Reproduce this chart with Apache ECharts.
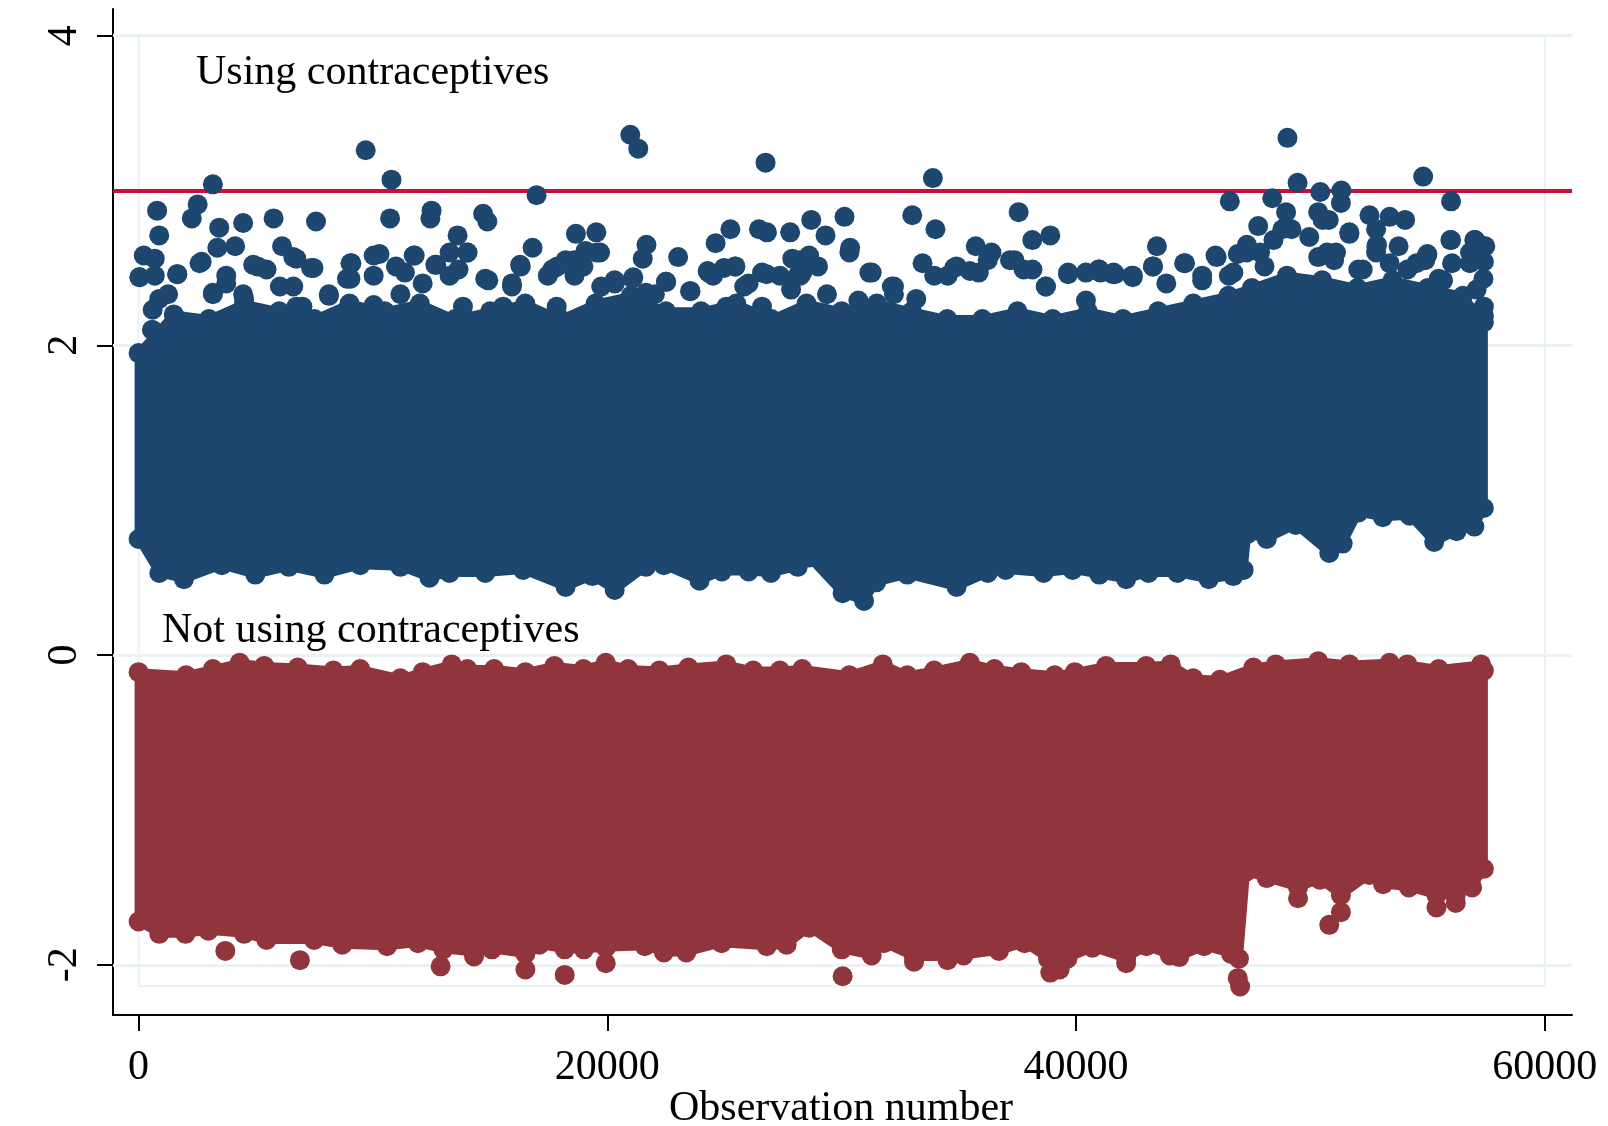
<!DOCTYPE html>
<html>
<head>
<meta charset="utf-8">
<title>Observation number scatter</title>
<script src="https://cdn.jsdelivr.net/npm/echarts@6/dist/echarts.min.js"></script>
<style>
  html, body { margin: 0; padding: 0; background: #ffffff; }
  #chart { width: 1608px; height: 1126px; }
</style>
</head>
<body>
<div id="chart"></div>
<script>
// Axis ticks
const xTicks = [0, 20000, 40000, 60000];
const yTicks = [-2, 0, 2, 4];
const refLineY = 3;

// Plot-region outline (observation range 0..60000, value range down to the inner margin)
const frameBox = [[0, 4], [0, -2.136], [60000, -2.136], [60000, 4]];

// "Using contraceptives": outline of the densely packed cloud (upper / lower edge, observation, value)
const blueTop = [
  [0, 1.95], [1500, 2.20], [3000, 2.17], [4500, 2.27], [6000, 2.22], [7500, 2.17], [9000, 2.27],
  [10500, 2.22], [12000, 2.27], [13500, 2.17], [15000, 2.22], [16500, 2.27], [18000, 2.17],
  [19500, 2.27], [21000, 2.32], [22500, 2.22], [24000, 2.22], [25500, 2.27], [27000, 2.17],
  [28500, 2.27], [30000, 2.22], [31500, 2.27], [33000, 2.22], [34500, 2.17], [36000, 2.17],
  [37500, 2.22], [39000, 2.17], [40500, 2.22], [42000, 2.17], [43500, 2.22], [45000, 2.27],
  [46500, 2.32], [47500, 2.37], [49000, 2.45], [50500, 2.42], [52000, 2.37], [53500, 2.42],
  [55000, 2.37], [56500, 2.32], [57400, 2.15]
];
const blueBottom = [
  [0, 0.75], [883, 0.53], [1933, 0.49], [3550, 0.58], [4980, 0.52], [6409, 0.57], [7932, 0.52],
  [9456, 0.58], [11171, 0.57], [12409, 0.50], [13266, 0.53], [14790, 0.53], [16407, 0.55],
  [18219, 0.44], [19360, 0.51], [20315, 0.42], [21648, 0.57], [22410, 0.58], [23934, 0.48],
  [24886, 0.54], [26029, 0.54], [26980, 0.53], [28124, 0.57], [28611, 0.63], [30040, 0.40],
  [30953, 0.35], [31469, 0.47], [32800, 0.52], [34900, 0.44], [36231, 0.53], [36995, 0.55],
  [38612, 0.53], [39851, 0.55], [40993, 0.52], [42137, 0.49], [43089, 0.53], [44325, 0.53],
  [45661, 0.49], [46707, 0.51], [47150, 0.55], [47300, 0.78], [48136, 0.75], [49374, 0.84],
  [50803, 0.66], [51375, 0.72], [52042, 0.92], [53090, 0.89], [54233, 0.90], [55279, 0.73],
  [56234, 0.80], [56995, 0.83], [57400, 0.95]
];
// Scattered observations above the dense part of the cloud
const blueFringe = [
  [9690, 3.26], [20980, 3.36], [21320, 3.27], [26750, 3.18], [10790, 3.07], [3170, 3.04], [16980, 2.97],
  [790, 2.87], [2520, 2.91], [2270, 2.82], [880, 2.71], [3440, 2.76], [4460, 2.79], [5760, 2.82],
  [7570, 2.80], [10730, 2.82], [12500, 2.87], [12450, 2.82], [14700, 2.85], [14880, 2.80], [13610, 2.71],
  [16810, 2.63], [18660, 2.72], [19530, 2.73], [21670, 2.65], [21510, 2.56], [23020, 2.57], [25250, 2.75],
  [24620, 2.66], [26470, 2.75], [26810, 2.73], [27800, 2.73], [28700, 2.81], [220, 2.58], [690, 2.56],
  [30, 2.44], [1650, 2.46], [2690, 2.54], [6120, 2.64], [6730, 2.56], [7460, 2.50], [9040, 2.53],
  [10280, 2.59], [11780, 2.58], [12660, 2.52], [14030, 2.60], [19070, 2.61], [19690, 2.60], [27890, 2.56],
  [16280, 2.52], [14920, 2.42], [21110, 2.44], [23530, 2.35], [22500, 2.41], [26790, 2.46], [25460, 2.51],
  [24280, 2.48], [3740, 2.40], [4890, 2.52], [8120, 2.33], [10030, 2.26], [17870, 2.51], [20310, 2.42],
  [600, 2.23], [580, 2.10], [10410, 2.04], [14700, 1.97],
  [1260, 2.33], [3170, 2.33], [4460, 2.33], [6030, 2.38], [6730, 2.25], [9040, 2.43], [11170, 2.33],
  [13270, 2.45], [13840, 2.25], [15930, 2.40], [17460, 2.45], [18600, 2.55], [19740, 2.38], [22030, 2.33],
  [24510, 2.45], [25840, 2.38], [26600, 2.25], [28120, 2.45],
  [49020, 3.34], [33890, 3.08], [54810, 3.09], [49450, 3.05], [46560, 2.93], [48370, 2.95], [50420, 2.99],
  [51320, 3.00], [51300, 2.92], [56000, 2.93], [30120, 2.83], [33010, 2.84], [34000, 2.75], [37550, 2.86],
  [38130, 2.68], [38900, 2.71], [29310, 2.71], [30360, 2.63], [35720, 2.64], [36390, 2.60], [43450, 2.64],
  [44650, 2.53], [46000, 2.57], [47770, 2.77], [48960, 2.86], [50330, 2.86], [52520, 2.84], [53380, 2.83],
  [54040, 2.81], [51660, 2.72], [53760, 2.64], [56000, 2.68], [54990, 2.59], [56990, 2.68], [57400, 2.64],
  [46900, 2.59], [33450, 2.53], [31180, 2.47], [39660, 2.46], [40960, 2.49], [42420, 2.44], [41660, 2.46],
  [28610, 2.58], [52040, 2.49], [52060, 2.29], [57400, 2.54], [57090, 2.36], [57400, 2.19], [32140, 2.38],
  [34800, 2.50], [37370, 2.55], [38710, 2.38], [49470, 2.10], [50330, 2.57], [51010, 2.55],
  [28230, 2.45], [29370, 2.33], [30710, 2.29], [32230, 2.33], [34520, 2.45], [35850, 2.47], [37760, 2.49],
  [40420, 2.29], [43280, 2.51], [45380, 2.42], [46520, 2.45], [47850, 2.60], [48800, 2.75], [50710, 2.60],
  [52800, 2.60], [52800, 2.75], [54520, 2.53], [55660, 2.42], [56800, 2.53],
  [50780, 2.81], [52840, 2.65], [55970, 2.68], [57030, 2.68], [57460, 2.64], [52200, 2.28], [54970, 2.58],
  [41600, 2.47], [42390, 2.45], [41040, 2.47], [47290, 2.65]
];
// Packed observations along the top of the dense part
const blueShoulder = [
  [50, 2.44], [690, 2.45], [1650, 2.46], [880, 2.30], [580, 2.10], [2600, 2.53], [3360, 2.63], [4120, 2.64],
  [3740, 2.45], [3170, 2.34], [4500, 2.30], [5080, 2.51], [5460, 2.49], [6600, 2.57], [7360, 2.50],
  [6600, 2.38], [6990, 2.25], [8120, 2.32], [9080, 2.53], [8890, 2.43], [10030, 2.58], [10030, 2.45],
  [10980, 2.51], [11740, 2.58], [11360, 2.47], [12120, 2.40], [12700, 2.52], [13270, 2.60], [14030, 2.60],
  [13650, 2.49], [14790, 2.43], [15930, 2.38], [16310, 2.51], [15550, 2.25], [17650, 2.49], [18220, 2.55],
  [18600, 2.45], [18980, 2.51], [19550, 2.60], [20320, 2.40], [21080, 2.43], [21650, 2.34], [22510, 2.41],
  [23550, 2.35], [24320, 2.47], [24980, 2.50], [25460, 2.51], [26030, 2.40], [26600, 2.47], [27360, 2.45],
  [27840, 2.36], [28320, 2.47], [25080, 2.25], [23360, 2.17], [17840, 2.25], [12120, 2.21], [4500, 2.17],
  [1650, 2.17],
  [28230, 2.55], [28990, 2.51], [30330, 2.60], [31280, 2.47], [32230, 2.38], [33180, 2.30], [33950, 2.45],
  [34900, 2.51], [35470, 2.48], [36230, 2.55], [37180, 2.55], [38140, 2.49], [38710, 2.38], [39660, 2.47],
  [40420, 2.47], [40990, 2.49], [41570, 2.46], [42420, 2.45], [43280, 2.51], [43850, 2.40], [44610, 2.53],
  [45380, 2.45], [45950, 2.58], [46710, 2.47], [47280, 2.60], [48040, 2.51], [48420, 2.68], [49190, 2.75],
  [49000, 2.40], [49950, 2.70], [50520, 2.81], [51090, 2.60], [51660, 2.73], [52230, 2.49], [52810, 2.64],
  [53380, 2.53], [54140, 2.49], [54900, 2.55], [55470, 2.43], [56040, 2.53], [56810, 2.60], [57380, 2.43],
  [57400, 2.25], [52040, 2.30], [49380, 2.12]
];

// "Not using contraceptives": outline of the cloud
const redTop = [
  [0, -0.11], [2027, -0.13], [3170, -0.09], [4314, -0.05], [5359, -0.07], [6789, -0.08], [8312, -0.10],
  [9456, -0.09], [11171, -0.15], [12123, -0.11], [13360, -0.06], [14026, -0.09], [15170, -0.09],
  [16505, -0.11], [17742, -0.07], [18980, -0.09], [19932, -0.05], [20887, -0.09], [22218, -0.10],
  [23456, -0.08], [25077, -0.06], [26221, -0.10], [27360, -0.10], [28316, -0.09], [30326, -0.13],
  [31755, -0.06], [32800, -0.13], [33944, -0.10], [35467, -0.05], [36517, -0.09], [37661, -0.11],
  [39090, -0.13], [39948, -0.11], [41279, -0.07], [42994, -0.07], [44040, -0.06], [44996, -0.15],
  [46135, -0.16], [47564, -0.08], [48520, -0.06], [50329, -0.04], [51661, -0.06], [53376, -0.05],
  [54136, -0.06], [55471, -0.09], [57280, -0.06], [57400, -0.10]
];
const redBottom = [
  [0, -1.72], [883, -1.80], [2000, -1.80], [2978, -1.78], [4502, -1.80], [5457, -1.84], [7490, -1.84],
  [8692, -1.87], [10599, -1.88], [11918, -1.86], [13000, -1.90], [14312, -1.92], [15074, -1.90],
  [16504, -1.93], [17100, -1.87], [18181, -1.90], [19000, -1.90], [19932, -1.89], [21600, -1.88],
  [22413, -1.92], [23368, -1.92], [24876, -1.86], [26800, -1.88], [27650, -1.87], [28612, -1.76],
  [30000, -1.90], [31278, -1.94], [31800, -1.86], [33086, -1.95], [34516, -1.95], [35200, -1.94],
  [36709, -1.91], [37800, -1.86], [38804, -1.96], [39630, -1.96], [40700, -1.89], [42137, -1.96],
  [43000, -1.88], [44000, -1.94], [44400, -1.95], [45460, -1.88], [46613, -1.93], [46950, -1.96],
  [47250, -1.40], [48136, -1.44], [49471, -1.50], [50400, -1.45], [51300, -1.55], [52517, -1.42],
  [53100, -1.48], [54200, -1.50], [55377, -1.55], [56200, -1.55], [56900, -1.50], [57400, -1.38]
];
// Low-lying observations below the dense part
const redOutliers = [
  [3700, -1.91], [6883, -1.97], [12886, -2.01], [16504, -2.03], [18181, -2.065], [19932, -1.99],
  [30040, -2.074], [38900, -2.05], [39300, -2.03], [46899, -2.086], [47000, -2.14], [49471, -1.57],
  [50803, -1.742], [51300, -1.66], [55377, -1.63], [56200, -1.60], [33086, -1.98], [34516, -1.97],
  [14312, -1.946], [42137, -1.99]
];

const NAVY = '#1d476f';
const MAROON = '#90353b';
const GRID = '#eaf2f3';
const SERIF = "'Liberation Serif', 'Times New Roman', serif";
const FS = 42;

// Filled band between an upper and a lower edge, placed through the axes
function band(top, bottom, color) {
  return function (params, api) {
    if (params.dataIndex !== 0) return null;
    const pts = top.map(p => api.coord(p))
      .concat(bottom.slice().reverse().map(p => api.coord(p)));
    return {
      type: 'polygon',
      shape: { points: pts },
      style: { fill: color, stroke: color, lineWidth: 8, lineJoin: 'round' }
    };
  };
}

function plainText(x, y, text, align) {
  return {
    type: 'text', silent: true, z: 50, x: x, y: y,
    style: { text: text, font: FS + 'px ' + SERIF, fill: '#000', align: align, verticalAlign: 'top' }
  };
}

const chart = echarts.init(document.getElementById('chart'), null, { renderer: 'canvas' });

chart.setOption({
  animation: false,
  backgroundColor: '#ffffff',
  grid: {
    left: 113, right: 36, top: 9, bottom: 111,
    containLabel: false, outerBoundsMode: 'none'
  },
  xAxis: {
    type: 'value',
    min: -1092, max: 61160,
    axisLine: { show: true, onZero: false, lineStyle: { color: '#000', width: 2 } },
    axisTick: { show: true, length: 16, lineStyle: { color: '#000', width: 2 }, customValues: xTicks },
    axisLabel: {
      show: true, customValues: xTicks, margin: 32,
      formatter: v => String(v),
      color: '#000', fontFamily: SERIF, fontSize: FS
    },
    splitLine: { show: false }
  },
  yAxis: {
    type: 'value',
    min: -2.324, max: 4.172,
    axisLine: { show: true, onZero: false, lineStyle: { color: '#000', width: 2 } },
    axisTick: { show: true, length: 16, lineStyle: { color: '#000', width: 2 }, customValues: yTicks },
    axisLabel: {
      show: true, customValues: yTicks, rotate: 90, margin: 27,
      formatter: v => String(v),
      color: '#000', fontFamily: SERIF, fontSize: FS
    },
    splitLine: { show: false }
  },
  graphic: [
    plainText(196, 52, 'Using contraceptives', 'left'),
    plainText(162, 610, 'Not using contraceptives', 'left'),
    plainText(841, 1088, 'Observation number', 'center')
  ],
  series: [
    {
      name: 'gridlines', type: 'line', data: [], silent: true, z: 1,
      markLine: {
        silent: true, symbol: 'none', animation: false, z: 1,
        label: { show: false },
        lineStyle: { color: GRID, width: 3, type: 'solid' },
        data: yTicks.map(v => ({ yAxis: v }))
      }
    },
    {
      name: 'frame', type: 'line', data: frameBox, silent: true, z: 1,
      symbol: 'none', lineStyle: { color: GRID, width: 2 }
    },
    {
      name: 'reference', type: 'line', data: [], silent: true, z: 2,
      markLine: {
        silent: true, symbol: 'none', animation: false, z: 2,
        label: { show: false },
        lineStyle: { color: '#c8103c', width: 4, type: 'solid' },
        data: [{ yAxis: refLineY }]
      }
    },
    {
      name: 'Using contraceptives band', type: 'custom', z: 3, silent: true,
      data: [[0, 0]], renderItem: band(blueTop, blueBottom, NAVY)
    },
    {
      name: 'Using contraceptives', type: 'scatter', z: 4, silent: true,
      symbol: 'circle', symbolSize: 20,
      itemStyle: { color: NAVY, opacity: 1 },
      data: blueTop.concat(blueBottom, blueShoulder, blueFringe)
    },
    {
      name: 'Not using contraceptives band', type: 'custom', z: 3, silent: true,
      data: [[0, 0]], renderItem: band(redTop, redBottom, MAROON)
    },
    {
      name: 'Not using contraceptives', type: 'scatter', z: 4, silent: true,
      symbol: 'circle', symbolSize: 20,
      itemStyle: { color: MAROON, opacity: 1 },
      data: redTop.concat(redBottom, redOutliers)
    }
  ]
});
</script>
</body>
</html>
